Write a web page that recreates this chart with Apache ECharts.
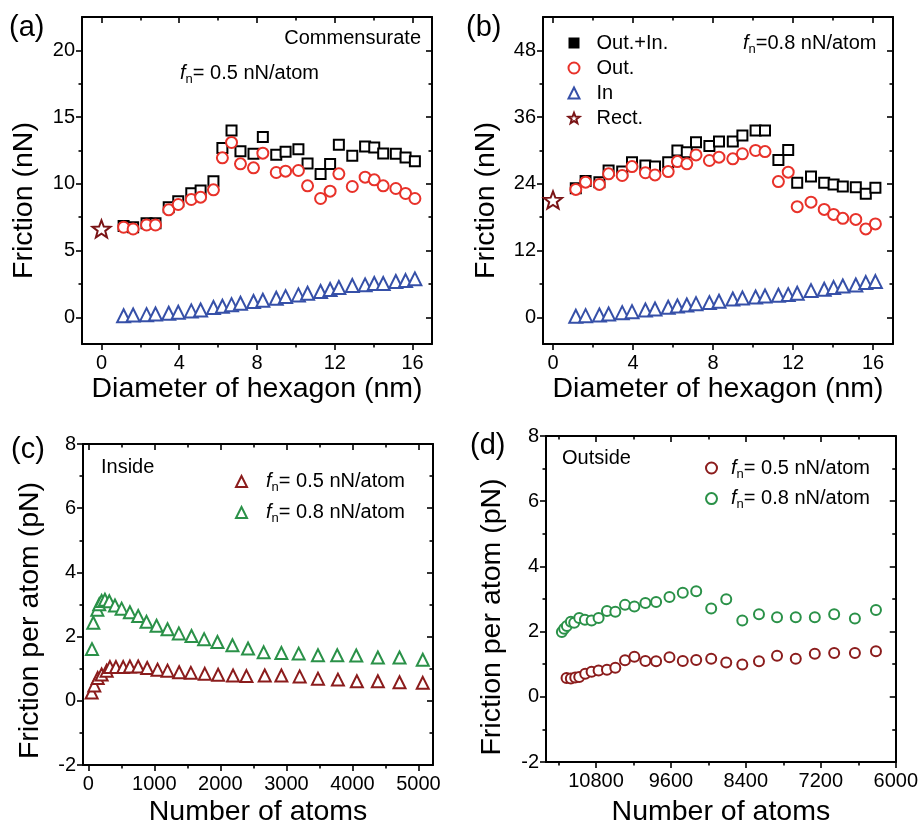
<!DOCTYPE html>
<html><head><meta charset="utf-8">
<script src="https://cdn.jsdelivr.net/npm/echarts@6/dist/echarts.min.js"></script>
<style>html,body{margin:0;padding:0;background:#fff}#c{width:921px;height:828px}</style>
</head><body><div id="c"></div>
<script>
// ---------------- data ----------------
// panels (a) and (b): hexagon diameters (nm)
const diameters = [1.14,1.63,2.32,2.78,3.46,3.95,4.62,5.1,5.76,6.22,6.69,7.15,7.82,8.3,8.99,9.47,10.13,10.6,11.27,11.76,12.21,12.9,13.56,14.03,14.49,15.14,15.64,16.12];
const aOutIn = [6.85,6.75,7.05,7.05,8.25,8.7,9.3,9.5,10.2,12.68,14.0,12.45,12.25,13.5,12.18,12.4,12.6,11.53,10.73,11.48,12.93,12.1,12.8,12.73,12.28,12.25,11.98,11.7];
const aOut   = [6.75,6.62,6.92,6.92,8.05,8.45,8.83,9.0,9.55,11.95,13.1,11.5,11.2,12.3,10.85,10.95,11.0,9.85,8.9,9.45,10.75,9.8,10.5,10.3,9.85,9.65,9.28,8.9];
const aIn    = [0.12,0.17,0.2,0.25,0.3,0.38,0.48,0.55,0.73,0.83,0.95,1.05,1.18,1.28,1.43,1.55,1.68,1.8,1.93,2.08,2.23,2.38,2.43,2.53,2.53,2.68,2.75,2.88];
const aRect  = 6.63;
const bOutIn = [23.2,24.5,24.3,26.4,26.2,27.9,27.3,27.1,27.9,30.0,29.7,31.5,30.8,31.6,31.6,32.7,33.6,33.6,28.3,30.1,24.2,25.3,24.2,23.9,23.5,23.4,22.2,23.3];
const bOut   = [23.0,24.3,23.9,25.8,25.5,27.1,26.0,25.6,26.2,28.0,27.6,29.2,28.2,28.8,28.5,29.4,30.0,29.8,24.4,26.1,19.9,20.7,19.4,18.5,17.8,17.6,15.9,16.8];
const bIn    = [0.18,0.3,0.42,0.6,0.84,1.02,1.32,1.5,1.8,2.04,2.22,2.46,2.64,2.88,3.3,3.48,3.66,3.84,3.96,4.08,4.32,4.8,5.04,5.34,5.64,5.82,6.24,6.42];
const bRect  = 21.1;
// panel (c): inside, friction per atom vs number of atoms
const cAtoms05 = [51,91,142,202,278,328,419,529,630,756,892,1049,1200,1376,1553,1764,1966,2192,2395,2672,2924,3201,3478,3780,4067,4385,4713,5065];
const cFric05  = [0.26,0.48,0.71,0.82,0.94,1.05,1.05,1.05,1.07,1.07,1.02,0.97,0.94,0.89,0.87,0.84,0.81,0.79,0.77,0.79,0.79,0.76,0.69,0.66,0.61,0.61,0.58,0.56];
const cAtoms08 = [56,76,137,166,202,252,318,404,505,630,756,882,1034,1200,1371,1563,1754,1956,2183,2419,2656,2924,3186,3478,3770,4058,4385,4713,5065];
const cFric08  = [1.61,2.43,2.84,3.01,3.11,3.15,3.10,2.97,2.87,2.76,2.64,2.46,2.34,2.23,2.1,2.02,1.92,1.83,1.73,1.63,1.51,1.49,1.47,1.42,1.42,1.41,1.35,1.35,1.28];
// panel (d): outside
const dAtoms05 = [11271,11202,11132,11068,10972,10870,10758,10624,10490,10335,10185,10009,9837,9623,9410,9195,8955,8714,8457,8190,7901,7601,7296,6986,6654,6317];
const dFric05  = [0.58,0.56,0.59,0.61,0.71,0.77,0.81,0.83,0.89,1.12,1.23,1.10,1.09,1.21,1.10,1.13,1.17,1.05,0.99,1.09,1.26,1.17,1.32,1.34,1.34,1.40];
const dAtoms08 = [11346,11309,11266,11202,11148,11068,10977,10870,10758,10624,10490,10335,10185,10009,9837,9623,9410,9195,8955,8714,8457,8190,7901,7601,7296,6986,6654,6317];
const dFric08  = [1.99,2.09,2.17,2.30,2.27,2.42,2.36,2.34,2.42,2.63,2.61,2.82,2.77,2.88,2.91,3.06,3.19,3.24,2.71,2.99,2.34,2.53,2.44,2.44,2.44,2.53,2.40,2.66];

// tick values
const aXMajor = [0,4,8,12,16], aXMinor = [2,6,10,14];
const aYMajor = [0,5,10,15,20], aYMinor = [2.5,7.5,12.5,17.5];
const bXMajor = [0,4,8,12,16], bXMinor = [2,6,10,14];
const bYMajor = [0,12,24,36,48], bYMinor = [6,18,30,42];
const cXMajor = [0,1000,2000,3000,4000,5000], cXMinor = [500,1500,2500,3500,4500];
const cdYMajor = [-2,0,2,4,6,8], cdYMinor = [-1,1,3,5,7];
const dXMajor = [6000,7200,8400,9600,10800], dXMinor = [6600,7800,9000,10200,11400];

// ---------------- styling ----------------
const FONT = '"Liberation Sans", Arial, Helvetica, sans-serif';
const BLACK = '#000', RED = '#e8322a', BLUE = '#3650a8', STAR = '#7a1416', DRED = '#8b1c1c', GREEN = '#2a9148';

function starPath() {
  let p = 'path://';
  for (let k = 0; k < 10; k++) {
    const ang = (-90 + 36 * k) * Math.PI / 180;
    const r = k % 2 === 0 ? 10 : 4.2;
    p += (k === 0 ? 'M' : 'L') + (r * Math.cos(ang)).toFixed(3) + ' ' + (r * Math.sin(ang)).toFixed(3) + ' ';
  }
  return p + 'Z';
}
const STAR_SYM = starPath();

function makeAxes(dim, gi, cfg) {
  const isX = dim === 'x';
  const base = {type: 'value', gridIndex: gi, min: cfg.min, max: cfg.max, inverse: !!cfg.inverse,
    splitLine: {show: false}, minorTick: {show: false}, splitArea: {show: false}, silent: true};
  const lineOn = {show: true, onZero: false, lineStyle: {color: BLACK, width: 2}};
  const lineOff = {show: false, onZero: false};
  const tick = (vals, len, inside) => ({show: true, inside: inside, length: len, customValues: vals, lineStyle: {color: BLACK, width: 1.6}});
  const main = isX ? 'bottom' : 'left', opp = isX ? 'top' : 'right';
  const shift = cfg.shift || 0;
  return [
    Object.assign({}, base, {position: main, axisLine: lineOn, axisTick: tick(cfg.majors, 6, false),
      axisLabel: {show: true, customValues: cfg.majors, margin: isX ? 9 : 7, fontSize: 20, color: BLACK, fontFamily: FONT, formatter: v => String(v)},
      name: cfg.name, nameLocation: 'middle', nameGap: cfg.gap,
      nameTextStyle: {fontSize: 28.5, color: BLACK, fontFamily: FONT,
        padding: shift > 0 ? [0, 2 * shift, 0, 0] : (shift < 0 ? [0, 0, 0, -2 * shift] : 0)}}),
    Object.assign({}, base, {position: main, axisLine: lineOff, axisTick: tick(cfg.minors, 3.5, false), axisLabel: {show: false}}),
    Object.assign({}, base, {position: opp, axisLine: lineOn, axisTick: tick(cfg.majors, 6, true), axisLabel: {show: false}}),
    Object.assign({}, base, {position: opp, axisLine: lineOff, axisTick: tick(cfg.minors, 3.5, true), axisLabel: {show: false}})
  ];
}

const panels = [
  {grid: {left: 82, top: 17, width: 350, height: 327},
   x: {min: -1, max: 17, majors: aXMajor, minors: aXMinor, name: 'Diameter of hexagon (nm)', gap: 31},
   y: {min: -2, max: 22.5, majors: aYMajor, minors: aYMinor, name: 'Friction (nN)', gap: 43, shift: 20}},
  {grid: {left: 543, top: 17, width: 350, height: 327},
   x: {min: -0.5, max: 17, majors: bXMajor, minors: bXMinor, name: 'Diameter of hexagon (nm)', gap: 31},
   y: {min: -4.8, max: 54, majors: bYMajor, minors: bYMinor, name: 'Friction (nN)', gap: 42, shift: 20}},
  {grid: {left: 83, top: 444, width: 350, height: 327},
   x: {min: -80, max: 5220, majors: cXMajor, minors: cXMinor, name: 'Number of atoms', gap: 33},
   y: {min: -2, max: 8, majors: cdYMajor, minors: cdYMinor, name: 'Friction per atom (pN)', gap: 38, shift: 16}},
  {grid: {left: 546, top: 436, width: 350, height: 327},
   x: {min: 6000, max: 11600, inverse: true, majors: dXMajor, minors: dXMinor, name: 'Number of atoms', gap: 36},
   y: {min: -2, max: 8, majors: cdYMajor, minors: cdYMinor, name: 'Friction per atom (pN)', gap: 39, shift: 18}}
];

const grids = [], xAxes = [], yAxes = [];
panels.forEach((p, i) => {
  grids.push(Object.assign({containLabel: false}, p.grid));
  xAxes.push(...makeAxes('x', i, p.x));
  yAxes.push(...makeAxes('y', i, p.y));
});

function sc(name, gi, xs, ys, symbol, size, color) {
  return {name: name, type: 'scatter', xAxisIndex: gi * 4, yAxisIndex: gi * 4,
    symbol: symbol, symbolSize: size, symbolKeepAspect: true,
    itemStyle: {color: '#fff', borderColor: color, borderWidth: 2, opacity: 1},
    emphasis: {disabled: true},
    data: xs.map((x, k) => [x, ys[k]])};
}

const series = [
  sc('a_oi', 0, diameters, aOutIn, 'rect', 10, BLACK),
  sc('a_o', 0, diameters, aOut, 'circle', 11, RED),
  sc('a_i', 0, diameters, aIn, 'triangle', 13, BLUE),
  sc('a_r', 0, [0], [aRect], STAR_SYM, 18, STAR),
  sc('Out.+In.', 1, diameters, bOutIn, 'rect', 10, BLACK),
  sc('Out.', 1, diameters, bOut, 'circle', 11, RED),
  sc('In', 1, diameters, bIn, 'triangle', 13, BLUE),
  sc('Rect.', 1, [0], [bRect], STAR_SYM, 18, STAR),
  sc('c05', 2, cAtoms05, cFric05, 'triangle', 12, DRED),
  sc('c08', 2, cAtoms08, cFric08, 'triangle', 12, GREEN),
  sc('d05', 3, dAtoms05, dFric05, 'circle', 10, DRED),
  sc('d08', 3, dAtoms08, dFric08, 'circle', 10, GREEN)
];

const richFn = (padL) => ({
  f: {fontSize: 20, fontStyle: 'italic', fontFamily: FONT, lineHeight: 24, color: BLACK, fill: BLACK, padding: [0, 0, 0, padL]},
  n: {fontSize: 13, fontFamily: FONT, lineHeight: 13, padding: [12, 0, 0, 0], color: BLACK, fill: BLACK},
  t: {fontSize: 20, fontFamily: FONT, lineHeight: 24, color: BLACK, fill: BLACK}
});
const fnLabel = {c05: '{f|f}{n|n}{t|= 0.5 nN/atom}', c08: '{f|f}{n|n}{t|= 0.8 nN/atom}',
                 d05: '{f|f}{n|n}{t|= 0.5 nN/atom}', d08: '{f|f}{n|n}{t|= 0.8 nN/atom}'};

const legends = [
  {orient: 'vertical', left: 567.5, top: 33, padding: 0, itemGap: 5, itemWidth: 11, itemHeight: 11,
   selectedMode: false,
   data: [{name: 'Out.+In.', icon: 'rect', itemStyle: {color: BLACK, borderColor: BLACK, borderWidth: 0}},
          {name: 'Out.'}, {name: 'In'}, {name: 'Rect.'}],
   formatter: n => '{t|' + n + '}',
   textStyle: {rich: {t: {fontSize: 20, fontFamily: FONT, color: BLACK, lineHeight: 24, padding: [0, 0, 0, 12]}}}},
  {orient: 'vertical', left: 235, top: 469, padding: 0, itemGap: 6, itemWidth: 11, itemHeight: 11,
   selectedMode: false, data: ['c05', 'c08'], formatter: n => fnLabel[n],
   textStyle: {rich: richFn(14)}},
  {orient: 'vertical', left: 705, top: 455.5, padding: 0, itemGap: 5.6, itemWidth: 11, itemHeight: 11,
   selectedMode: false, data: ['d05', 'd08'], formatter: n => fnLabel[n],
   textStyle: {rich: richFn(9)}}
];

function txt(x, y, text, size, align) {
  return {type: 'text', x: x, y: y, silent: true,
    style: {text: text, fontSize: size, fontFamily: FONT, fill: BLACK, align: align || 'left', verticalAlign: 'middle'}};
}
function richTxt(x, y, text) {
  return {type: 'text', x: x, y: y, silent: true,
    style: {text: text, rich: richFn(0), fontSize: 20, fontFamily: FONT, fill: BLACK, align: 'left', verticalAlign: 'middle'}};
}

const graphic = [
  txt(9, 28, '(a)', 29), txt(466, 28, '(b)', 29), txt(11, 450, '(c)', 29), txt(470, 446, '(d)', 29),
  txt(421, 38, 'Commensurate', 20, 'right'),
  richTxt(180, 73, '{f|f}{n|n}{t|= 0.5 nN/atom}'),
  richTxt(743, 43, '{f|f}{n|n}{t|=0.8 nN/atom}'),
  txt(101, 467, 'Inside', 20), txt(562, 458, 'Outside', 20)
];

const chart = echarts.init(document.getElementById('c'), null, {renderer: 'canvas'});
chart.setOption({
  animation: false,
  backgroundColor: '#fff',
  textStyle: {fontFamily: FONT},
  grid: grids, xAxis: xAxes, yAxis: yAxes,
  legend: legends, series: series, graphic: graphic
});
</script></body></html>
